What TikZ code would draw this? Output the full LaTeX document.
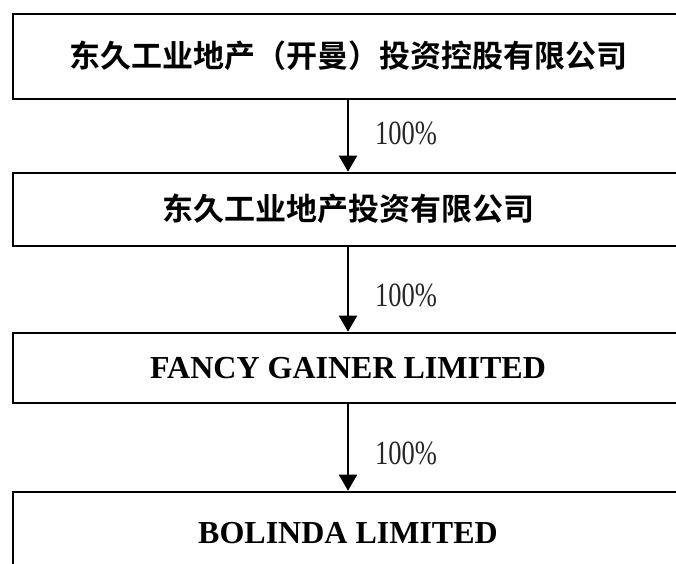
\documentclass[tikz,border=0pt]{standalone}
\usepackage{fontspec}
\setmainfont{Liberation Serif}
\newfontfamily\cjk{Noto Sans CJK SC}[BoldFont={Noto Sans CJK SC Bold}]
\usetikzlibrary{arrows.meta}
\tikzset{
  box/.style={draw=black, line width=2.6pt, rectangle, minimum width=670pt, inner sep=0pt, anchor=center},
  cn/.style={font=\cjk\bfseries\fontsize{31}{36}\selectfont},
  en/.style={font=\bfseries\fontsize{32}{36}\selectfont},
  conn/.style={draw=black, line width=2pt, -{Triangle[width=18pt,length=16pt]}},
  pct/.style={font=\fontsize{34}{38}\selectfont, text=black!85, inner sep=0pt}
}
\newcommand{\pctlabel}{\scalebox{0.78}[1]{100\%}}
\begin{document}
\begin{tikzpicture}[x=1pt,y=1pt]
\useasboundingbox (0,0) rectangle (676,563);
\node[box, cn, minimum height=85pt, text depth=4pt] (b1) at (348,506.5) {东久工业地产（开曼）投资控股有限公司};
\node[box, cn, minimum height=73pt, text depth=4pt] (b2) at (348,353.5) {东久工业地产投资有限公司};
\node[box, en, minimum height=70pt] (b3) at (348,195) {FANCY GAINER LIMITED};
\node[box, en, minimum height=83pt] (b4) at (348,29.5) {BOLINDA LIMITED};
\draw[conn] (b1.south) -- (b2.north);
\draw[conn] (b2.south) -- (b3.north);
\draw[conn] (b3.south) -- (b4.north);
\node[pct] (p1) at (406,430) {\pctlabel};
\node[pct] (p2) at (406,268) {\pctlabel};
\node[pct] (p3) at (406,110) {\pctlabel};
\end{tikzpicture}
\end{document}
